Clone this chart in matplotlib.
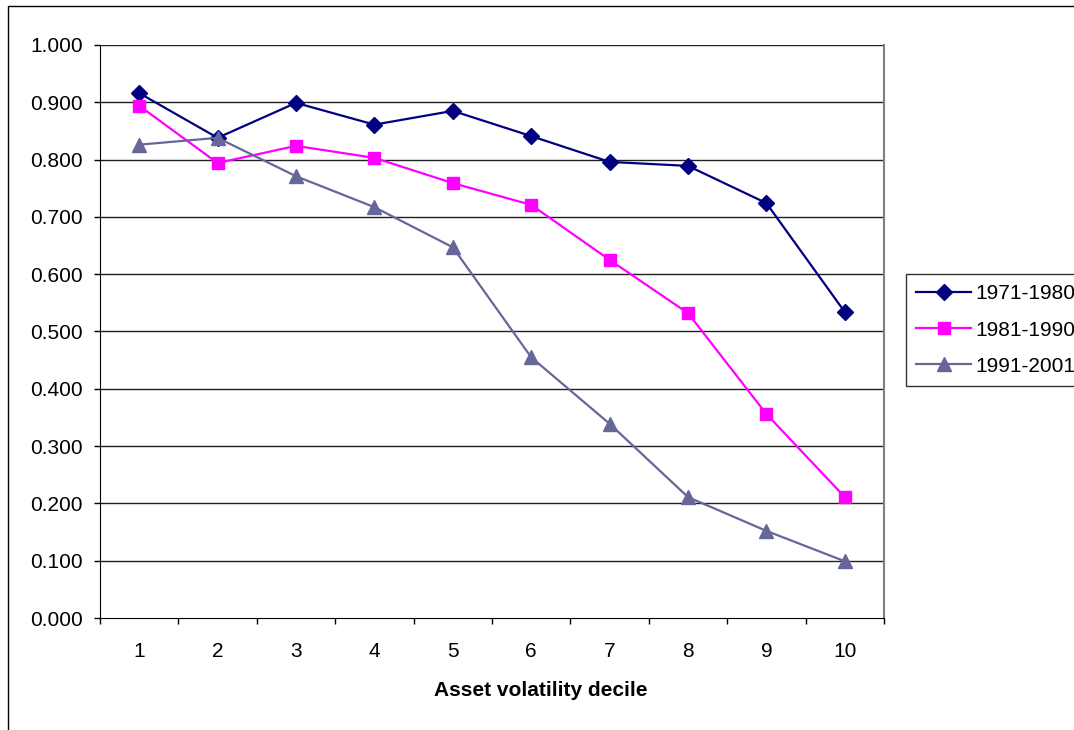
import numpy as np
import matplotlib
matplotlib.use("Agg")
from matplotlib import pyplot as plt
from matplotlib.patches import Rectangle

plt.rcParams['font.family'] = ['Liberation Sans', 'DejaVu Sans']

# data
deciles = [1, 2, 3, 4, 5, 6, 7, 8, 9, 10]
s1971 = [0.916, 0.838, 0.899, 0.861, 0.885, 0.841, 0.796, 0.789, 0.724, 0.534]
s1981 = [0.894, 0.794, 0.824, 0.803, 0.759, 0.721, 0.625, 0.532, 0.356, 0.211]
s1991 = [0.826, 0.838, 0.771, 0.717, 0.647, 0.455, 0.339, 0.211, 0.152, 0.099]
labels = ['1971-1980', '1981-1990', '1991-2001']
yticks = [0.0, 0.1, 0.2, 0.3, 0.4, 0.5, 0.6, 0.7, 0.8, 0.9, 1.0]

W, H = 1074, 730
fs = 15
fig = plt.figure(figsize=(W / 100, H / 100), dpi=100)

# outer chart border (cut off at right and bottom)
fig.patches.append(Rectangle((8 / W, -0.05), 1.2, 1 - 6 / H + 0.05,
                             transform=fig.transFigure, fill=False,
                             edgecolor='black', lw=1.0))

ax = fig.add_axes([100 / W, (H - 618) / H, 784 / W, 573 / H])

ax.plot(deciles, s1971, color='#000080', marker='D', markersize=8, lw=1.6,
        label=labels[0], zorder=3)
ax.plot(deciles, s1981, color='#FF00FF', marker='s', markersize=9, lw=1.6,
        label=labels[1], zorder=3)
ax.plot(deciles, s1991, color='#666699', marker='^', markersize=9.5, lw=1.6,
        label=labels[2], zorder=3)

ax.set_xlim(0.5, 10.5)
ax.set_ylim(0, 1.0)
ax.set_yticks(yticks)
ax.set_yticklabels(['%.3f' % v for v in yticks])
ax.set_xticks(deciles)
ax.set_xticks(np.arange(0.5, 11, 1.0), minor=True)
ax.tick_params(axis='x', which='major', length=0, pad=17, labelsize=fs)
ax.tick_params(axis='x', which='minor', length=4.5, width=1, direction='out')
ax.tick_params(axis='y', length=4, width=1, direction='out', pad=8.5, labelsize=fs)

for y in yticks[1:]:
    ax.axhline(y, color='#202020', lw=1.0, zorder=1)

ax.spines['top'].set_visible(False)
ax.spines['right'].set_color('#808080')
ax.spines['right'].set_linewidth(1.5)
ax.spines['left'].set_color('black')
ax.spines['bottom'].set_color('black')

fig.text(541 / W, 1 - 691 / H, 'Asset volatility decile', ha='center',
         va='center', fontsize=fs, fontweight='bold')

leg = fig.legend(loc='upper left', bbox_to_anchor=(906 / W, 1 - 274 / H),
                 frameon=True, fancybox=False, fontsize=fs,
                 handlelength=2.6, borderpad=0.5, borderaxespad=0,
                 labelspacing=0.82, handletextpad=0.25)
leg.get_frame().set_edgecolor('black')
leg.get_frame().set_linewidth(1.0)

fig.savefig('out.png', dpi=100)
